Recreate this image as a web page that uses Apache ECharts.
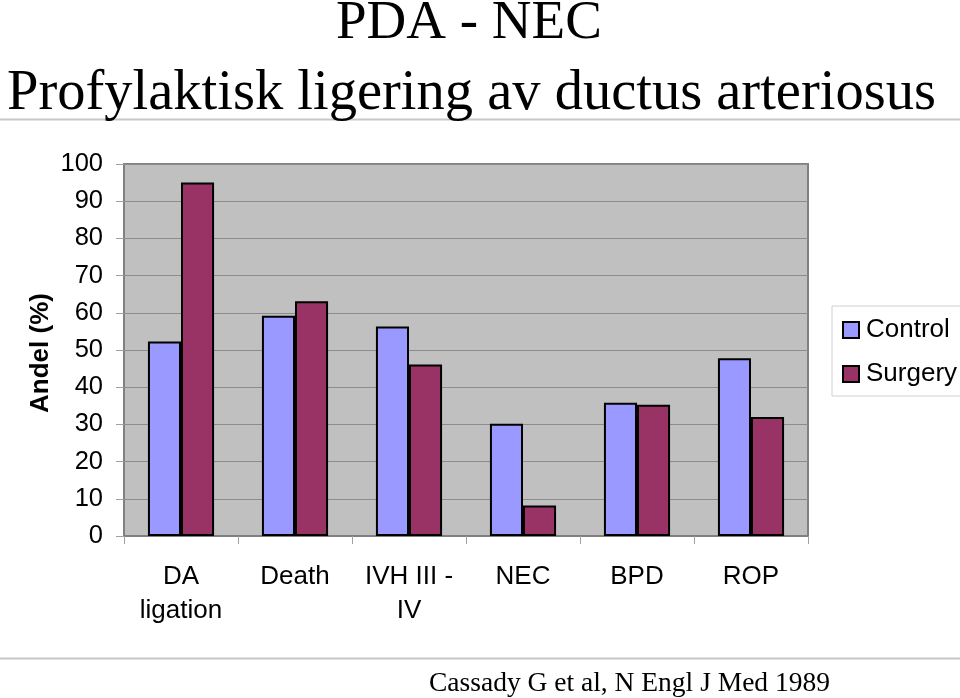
<!DOCTYPE html>
<html>
<head>
<meta charset="utf-8">
<script src="https://cdn.jsdelivr.net/npm/echarts@6/dist/echarts.min.js"></script>
<style>
html,body{margin:0;padding:0;background:#fff;}
#chart{width:960px;height:698px;}
</style>
</head>
<body>
<div id="chart"></div>
<script>
var categories = ['DA\nligation', 'Death', 'IVH III -\nIV', 'NEC', 'BPD', 'ROP'];
var controlValues = [52.3, 59.2, 56.3, 30.2, 35.8, 47.8];
var surgeryValues = [95, 63.1, 46.1, 8.2, 35.3, 32];
var yTicks = { min: 0, max: 100, interval: 10 };
var yAxisTitle = 'Andel (%)';

var chart = echarts.init(document.getElementById('chart'), null, { renderer: 'canvas' });
var sans = "'Liberation Sans', Arial, sans-serif";
var serif = "'Liberation Serif', 'Times New Roman', serif";

chart.setOption({
  animation: false,
  backgroundColor: '#ffffff',
  graphic: [
    { type: 'text', left: 336, top: -4, style: { text: 'PDA - NEC', font: '55px ' + serif, fill: '#000' }, z: 10 },
    { type: 'text', left: 7, top: 66, style: { text: 'Profylaktisk ligering av ductus arteriosus', font: '56.5px ' + serif, fill: '#000' }, z: 10 },
    { type: 'line', shape: { x1: 0, y1: 119.5, x2: 960, y2: 119.5 }, style: { stroke: '#c8c8c8', lineWidth: 2 } },
    { type: 'line', shape: { x1: 0, y1: 658.5, x2: 960, y2: 658.5 }, style: { stroke: '#c8c8c8', lineWidth: 2 } },
    { type: 'text', left: 429, top: 670, style: { text: 'Cassady G et al, N Engl J Med 1989', font: '27.5px ' + serif, fill: '#000' }, z: 10 },
    { type: 'text', x: 41, y: 353, rotation: Math.PI / 2,
      style: { text: yAxisTitle, font: 'bold 26px ' + sans, fill: '#000', align: 'center', verticalAlign: 'middle' }, z: 10 }
  ],
  grid: {
    left: 124, right: 152, top: 164, bottom: 162,
    show: true, backgroundColor: '#c0c0c0', borderColor: '#808080', borderWidth: 2,
    containLabel: false
  },
  legend: {
    orient: 'vertical',
    left: 832, top: 306,
    padding: [11, 10, 9, 10],
    itemWidth: 16, itemHeight: 16, itemGap: 18,
    borderColor: '#d0d0d0', borderWidth: 1,
    backgroundColor: '#ffffff',
    textStyle: { fontFamily: sans, fontSize: 26, color: '#000', padding: [0, 0, 0, 2] },
    icon: 'rect',
    data: ['Control', 'Surgery']
  },
  xAxis: {
    type: 'category',
    data: categories,
    axisLine: { show: true, lineStyle: { color: '#808080', width: 2 } },
    axisTick: { show: true, alignWithLabel: false, length: 8, lineStyle: { color: '#a0a0a0', width: 1 } },
    axisLabel: { fontFamily: sans, fontSize: 26, color: '#000', lineHeight: 34, margin: 24, interval: 0 },
    splitLine: { show: false }
  },
  yAxis: {
    type: 'value',
    min: yTicks.min, max: yTicks.max, interval: yTicks.interval,
    axisLine: { show: true, lineStyle: { color: '#808080', width: 2 } },
    axisTick: { show: true, length: 8, lineStyle: { color: '#a0a0a0', width: 1 } },
    axisLabel: { fontFamily: sans, fontSize: 25.5, color: '#000', margin: 21 },
    splitLine: { show: true, lineStyle: { color: '#8c8c8c', width: 1 } }
  },
  series: [
    {
      name: 'Control', type: 'bar', data: controlValues,
      barGap: '0%', barCategoryGap: '42%',
      itemStyle: { color: '#9999ff', borderColor: '#000', borderWidth: 2 }
    },
    {
      name: 'Surgery', type: 'bar', data: surgeryValues,
      barGap: '0%', barCategoryGap: '42%',
      itemStyle: { color: '#993366', borderColor: '#000', borderWidth: 2 }
    }
  ]
});
</script>
</body>
</html>
